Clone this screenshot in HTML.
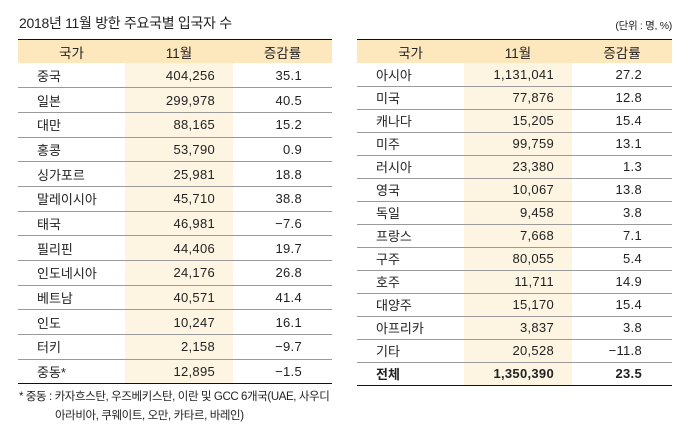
<!DOCTYPE html>
<html><head><meta charset="utf-8"><style>
body{margin:0;width:689px;height:446px;background:#fff;position:relative;font-family:"Liberation Sans","Noto Sans CJK KR",sans-serif;color:#222;overflow:hidden}
.t{position:absolute;font-size:14px;letter-spacing:-0.3px}
table{position:absolute;border-collapse:collapse;font-size:13px;table-layout:fixed}
th{background:#fde7bd;font-weight:normal;height:23px;padding:0;text-align:center;font-size:13.5px}
td{padding:0;border-bottom:1px solid #9a9a9a}
td.n{text-align:left;padding-left:19px}
td.v{text-align:right;padding-right:18px;background:#fdf5e2;letter-spacing:0.3px}
td.p{text-align:right;padding-right:30px;letter-spacing:0.3px}
table{border-top:1.5px solid #111;border-bottom:1.5px solid #111}
tr:last-child td{border-bottom:none}
.foot{position:absolute;font-size:11.5px;letter-spacing:-0.4px}
</style></head><body>
<div class="t" style="left:19px;top:13px">2018년 11월 방한 주요국별 입국자 수</div>
<div class="t" style="right:17px;top:18px;font-size:10.5px">(단위 : 명, %)</div>

<table style="left:18px;top:39px;width:314px">
<colgroup><col style="width:107px"><col style="width:108px"><col style="width:99px"></colgroup>
<tr><th>국가</th><th>11월</th><th>증감률</th></tr>
<tbody id="lb"></tbody>
</table>

<table style="left:357px;top:39px;width:315px">
<colgroup><col style="width:107px"><col style="width:108px"><col style="width:100px"></colgroup>
<tr><th>국가</th><th>11월</th><th>증감률</th></tr>
<tbody id="rb"></tbody>
</table>

<div class="foot" style="left:19px;top:388px">* 중동 : 카자흐스탄, 우즈베키스탄, 이란 및 GCC 6개국(UAE, 사우디</div>
<div class="foot" style="left:55px;top:407px">아라비아, 쿠웨이트, 오만, 카타르, 바레인)</div>
<script>
const leftNames=["중국","일본","대만","홍콩","싱가포르","말레이시아","태국","필리핀","인도네시아","베트남","인도","터키","중동*"];
const leftVals=["404,256","299,978","88,165","53,790","25,981","45,710","46,981","44,406","24,176","40,571","10,247","2,158","12,895"];
const leftPct=["35.1","40.5","15.2","0.9","18.8","38.8","−7.6","19.7","26.8","41.4","16.1","−9.7","−1.5"];
const rightNames=["아시아","미국","캐나다","미주","러시아","영국","독일","프랑스","구주","호주","대양주","아프리카","기타","전체"];
const rightVals=["1,131,041","77,876","15,205","99,759","23,380","10,067","9,458","7,668","80,055","11,711","15,170","3,837","20,528","1,350,390"];
const rightPct=["27.2","12.8","15.4","13.1","1.3","13.8","3.8","7.1","5.4","14.9","15.4","3.8","−11.8","23.5"];
function fill(id,names,vals,pct,h){
  const tb=document.getElementById(id);
  names.forEach((n,i)=>{
    const tr=document.createElement('tr');
    
    
    tr.style.height=h+'px';
    [[n,'n'],[vals[i],'v'],[pct[i],'p']].forEach(([t,c])=>{
      const td=document.createElement('td');
      td.className=c;td.textContent=t;td.style.height=(h-1)+'px';
      if(n==='전체')td.style.fontWeight='bold';
      
      
      tr.appendChild(td);
    });
    tb.appendChild(tr);
  });
}
fill('lb',leftNames,leftVals,leftPct,24.7);
fill('rb',rightNames,rightVals,rightPct,23);
</script>
</body></html>
